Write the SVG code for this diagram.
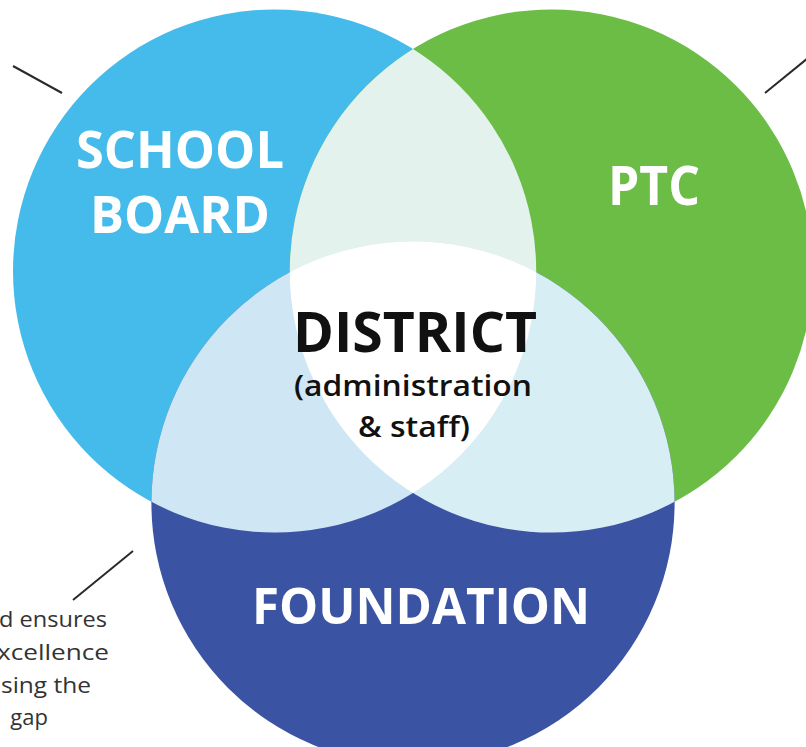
<svg xmlns="http://www.w3.org/2000/svg" width="806" height="747" viewBox="0 0 806 747">
<style>
.lbl{font-family:"Open Sans","Noto Sans",sans-serif;font-weight:700;fill:#fff;text-anchor:middle}
.dk{font-family:"Open Sans","Noto Sans",sans-serif;fill:#111;text-anchor:middle}
.side{font-family:"Open Sans","Noto Sans",sans-serif;font-size:22px;fill:#333;text-anchor:end}
.ln{stroke:#2a2a2a;stroke-width:2;fill:none}
</style>
<defs>
<clipPath id="cb"><circle cx="274.6" cy="271" r="261.6"/></clipPath>
<clipPath id="cg"><circle cx="551.4" cy="271" r="261.6"/></clipPath>
</defs>
<rect width="806" height="747" fill="#fff"/>
<g id="school-board">
<circle cx="274.6" cy="271" r="261.6" fill="#44BBEA"/>
</g>
<g id="ptc">
<circle cx="551.4" cy="271" r="261.6" fill="#6BBD46"/>
</g>
<g id="foundation">
<circle cx="413" cy="503" r="261.6" fill="#3A53A3"/>
</g>
<g id="overlaps">
<circle cx="551.4" cy="271" r="261.6" fill="#E4F2EE" clip-path="url(#cb)"/>
<circle cx="413" cy="503" r="261.6" fill="#CFE6F5" clip-path="url(#cb)"/>
<circle cx="413" cy="503" r="261.6" fill="#D7EEF4" clip-path="url(#cg)"/>
<g clip-path="url(#cg)"><circle cx="413" cy="503" r="261.6" fill="#fff" clip-path="url(#cb)"/></g>
</g>
<g id="labels">
<text class="lbl" x="180" y="168" font-size="52" textLength="208" lengthAdjust="spacingAndGlyphs">SCHOOL</text>
<text class="lbl" x="180" y="233" font-size="52" textLength="180" lengthAdjust="spacingAndGlyphs">BOARD</text>
<text class="lbl" x="654" y="205" font-size="53" textLength="92" lengthAdjust="spacingAndGlyphs">PTC</text>
<text class="lbl" x="421" y="624" font-size="50" textLength="338" lengthAdjust="spacingAndGlyphs">FOUNDATION</text>
</g>
<g id="district">
<text class="dk" x="415" y="352" font-size="56" font-weight="700" textLength="244" lengthAdjust="spacingAndGlyphs">DISTRICT</text>
<text class="dk" x="413" y="396" font-size="29" font-weight="600" textLength="238" lengthAdjust="spacingAndGlyphs">(administration</text>
<text class="dk" x="414" y="437" font-size="29" font-weight="600" textLength="112" lengthAdjust="spacingAndGlyphs">&amp; staff)</text>
</g>
<g id="connectors">
<line class="ln" x1="13" y1="66" x2="62" y2="93"/>
<line class="ln" x1="765" y1="93" x2="808" y2="58"/>
<line class="ln" x1="133" y1="551" x2="73" y2="600"/>
</g>
<g id="side-note">
<text class="side" x="107" y="627" textLength="108" lengthAdjust="spacingAndGlyphs">d ensures</text>
<text class="side" x="109" y="660" textLength="112" lengthAdjust="spacingAndGlyphs">xcellence</text>
<text class="side" x="91" y="693" textLength="90" lengthAdjust="spacingAndGlyphs">sing the</text>
<text class="side" x="48" y="725">gap</text>
</g>
</svg>
